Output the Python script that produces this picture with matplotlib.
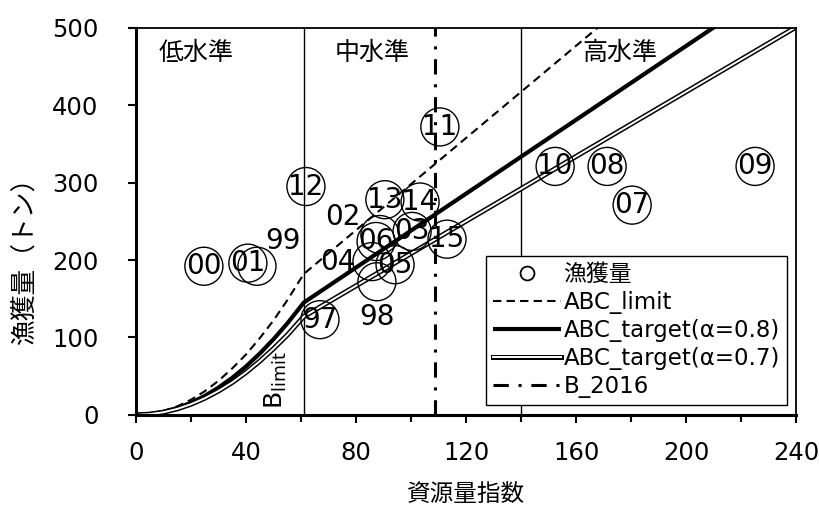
import matplotlib
matplotlib.use("Agg")
import matplotlib.pyplot as plt
from matplotlib.lines import Line2D
from matplotlib.ticker import MultipleLocator

plt.rcParams['font.family'] = ['DejaVu Sans', 'Noto Sans CJK JP']

# catch vs. resource index, one circle per year
years = ['00', '01', '99', '12', '97', '13', '14', '03', '06', '05', '15',
         '11', '98', '04', '02', '10', '08', '07', '09']
index = [24.7, 40.7, 44.0, 61.8, 66.9, 90.5, 103.3, 100.4, 87.3, 94.2, 113.1,
         110.5, 87.6, 85.8, 88.7, 152.4, 171.3, 180.4, 225.1]
catch = [192, 196, 192, 295, 123, 278, 275, 237, 224, 194, 227,
         372, 172, 198, 233, 321, 321, 271, 321]
# labels that are not written inside their own circle
label_pos = {'99': (53.5, 224), '98': (87.6, 127), '04': (73.5, 197), '02': (75.3, 255)}

# harvest control rule curves
bx = [0, 5, 10, 15, 20, 25, 30, 35, 40, 45, 50, 55, 61, 240]
abc_limit = [0, 1.2, 4.9, 11, 19.5, 30.5, 44, 60, 78, 99, 122, 148, 182, 715]
abc_t08 = [0, 1.0, 3.9, 8.8, 15.6, 24.4, 35.2, 47.8, 62.5, 79.2, 97.7, 118, 145, 572]
abc_t07 = [0, 0.9, 3.4, 7.7, 13.7, 21.4, 30.8, 41.8, 54.7, 69.3, 85.5, 103, 127, 501]

b_limit = 61
b_high = 140
b_2016 = 108.6

fig = plt.figure(figsize=(8.19, 5.16), dpi=100)
ax = fig.add_axes([0.166, 0.196, 0.806, 0.750])

ax.axvline(b_limit, color='black', lw=1.0)
ax.axvline(b_high, color='black', lw=1.0)

l_lim, = ax.plot(bx, abc_limit, color='black', lw=1.5, dashes=(4, 2.5))
l_08, = ax.plot(bx, abc_t08, color='black', lw=3.0, solid_capstyle='butt')
l_07a, = ax.plot(bx, abc_t07, color='black', lw=3.6)
l_07b, = ax.plot(bx, abc_t07, color='white', lw=1.4)
l_b16 = ax.axvline(b_2016, color='black', lw=2.2, dashes=(5, 3.2, 1.0, 3.2))

ax.scatter(index, catch, s=750, facecolors='none', edgecolors='black', linewidths=1.0, zorder=5)
for yr, xv, yv in zip(years, index, catch):
    tx, ty = label_pos.get(yr, (xv, yv))
    ax.text(tx, ty, yr, ha='center', va='center', fontsize=20, zorder=6)

ax.text(22, 468, '低水準', ha='center', va='center', fontsize=18)
ax.text(86, 468, '中水準', ha='center', va='center', fontsize=18)
ax.text(176, 468, '高水準', ha='center', va='center', fontsize=18)
ax.text(51, 7, r'B$_{\rm limit}$', rotation=90, ha='center', va='bottom', fontsize=18)

ax.set_xlim(0, 240)
ax.set_ylim(0, 500)
ax.xaxis.set_major_locator(MultipleLocator(40))
ax.xaxis.set_minor_locator(MultipleLocator(20))
ax.yaxis.set_major_locator(MultipleLocator(100))
ax.tick_params(which='both', direction='out', width=1.5, labelsize=17.5)
ax.tick_params(axis='x', pad=13)
ax.tick_params(axis='y', pad=21)
ax.tick_params(which='major', length=6)
ax.tick_params(which='minor', length=5)
for side in ['left', 'bottom']:
    ax.spines[side].set_linewidth(2.2)
for side in ['top', 'right']:
    ax.spines[side].set_linewidth(1.3)

ax.set_xlabel('資源量指数', fontsize=17, labelpad=12)
ax.set_ylabel('漁獲量（トン）', fontsize=18.5)
ax.yaxis.set_label_coords(-0.148, 0.413)

h_catch = Line2D([], [], marker='o', mfc='none', mec='black', ls='none', ms=10, mew=1.3)
leg = ax.legend([h_catch, l_lim, l_08, (l_07a, l_07b), l_b16],
                ['漁獲量', 'ABC_limit', 'ABC_target(α=0.8)', 'ABC_target(α=0.7)', 'B_2016'],
                loc='lower right', bbox_to_anchor=(0.986, 0.026), borderaxespad=0,
                fontsize=16.5, handlelength=3.0, handletextpad=0.1, labelspacing=0.22,
                fancybox=False, framealpha=1, edgecolor='black', borderpad=0.3)
leg.get_frame().set_linewidth(1.0)
leg.set_zorder(10)

fig.savefig('out.png', dpi=100)
